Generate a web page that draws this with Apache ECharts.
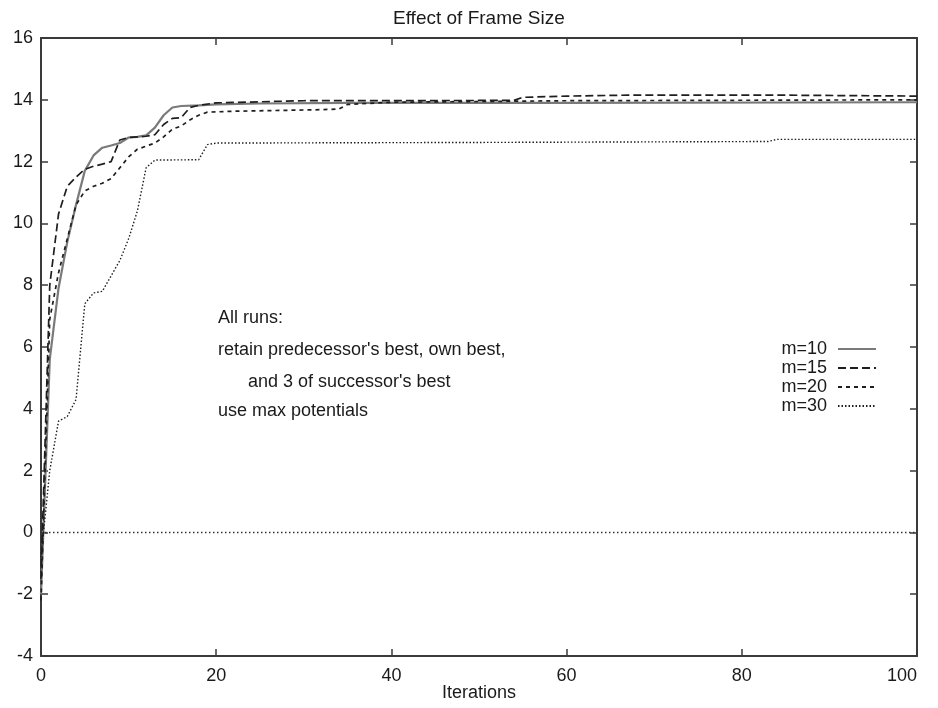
<!DOCTYPE html>
<html>
<head>
<meta charset="utf-8">
<title>Effect of Frame Size</title>
<script src="https://cdn.jsdelivr.net/npm/echarts@6/dist/echarts.min.js"></script>
<style>
  html, body { margin: 0; padding: 0; background: #ffffff; }
  #chart { width: 938px; height: 708px; }
</style>
</head>
<body>
<div id="chart"></div>
<script>
// Best value found per iteration for each frame size m
var iterM10 = [0, 1, 2, 3, 4, 5, 6, 7, 8, 9, 10, 11, 12, 13, 14, 15, 16, 18, 20, 25, 35, 60, 100];
var valM10  = [-2.0, 5.6, 7.9, 9.4, 10.6, 11.7, 12.2, 12.45, 12.52, 12.6, 12.78, 12.8, 12.85, 13.1, 13.5, 13.75, 13.8, 13.82, 13.85, 13.88, 13.9, 13.9, 13.92];

var iterM15 = [0, 1, 2, 3, 4, 5, 6, 7, 8, 9, 10, 11, 12, 13, 14, 15, 16, 17, 18, 20, 30, 54, 55, 60, 67, 85, 100];
var valM15  = [-1.5, 8.0, 10.3, 11.2, 11.5, 11.75, 11.85, 11.92, 12.0, 12.7, 12.78, 12.8, 12.82, 12.87, 13.2, 13.4, 13.42, 13.75, 13.82, 13.9, 13.97, 13.98, 14.08, 14.12, 14.15, 14.15, 14.12];

var iterM20 = [0, 1, 2, 3, 4, 5, 6, 7, 8, 9, 10, 11, 12, 13, 14, 15, 16, 17, 18, 19, 22, 32, 34, 35, 40, 60, 100];
var valM20  = [-2.2, 6.9, 8.4, 9.5, 10.6, 11.05, 11.2, 11.3, 11.45, 11.8, 12.15, 12.4, 12.5, 12.6, 12.8, 13.05, 13.15, 13.35, 13.5, 13.6, 13.63, 13.68, 13.7, 13.85, 13.92, 13.97, 14.0];

var iterM30 = [0, 1, 2, 3, 4, 5, 6, 7, 8, 9, 10, 11, 12, 13, 18, 19, 20, 50, 83, 84, 100];
var valM30  = [-0.8, 2.0, 3.6, 3.75, 4.3, 7.4, 7.75, 7.8, 8.3, 8.8, 9.5, 10.4, 11.8, 12.05, 12.06, 12.55, 12.6, 12.62, 12.65, 12.72, 12.72];

var seriesNames = ['m=10', 'm=15', 'm=20', 'm=30'];

var xTicks = [0, 20, 40, 60, 80, 100];
var yTicks = [-4, -2, 0, 2, 4, 6, 8, 10, 12, 14, 16];

var noteLines = [
  'All runs:',
  "retain predecessor's best, own best,",
  "      and 3 of successor's best",
  'use max potentials'
];

function pairs(xs, ys) {
  return xs.map(function (x, i) { return [x, ys[i]]; });
}

var FONT = '"Liberation Sans", Arial, Helvetica, sans-serif';
var INK = '#1a1a1a';
var FRAME = '#3a3a3a';

var baseX = {
  type: 'value', min: xTicks[0], max: xTicks[xTicks.length - 1], interval: 20,
  axisLine: { show: true, onZero: false, lineStyle: { color: FRAME, width: 2 } },
  axisTick: { show: true, inside: true, length: 7, lineStyle: { color: FRAME, width: 1.5 } },
  splitLine: { show: false }
};
var baseY = {
  type: 'value', min: yTicks[0], max: yTicks[yTicks.length - 1], interval: 2,
  axisLine: { show: true, onZero: false, lineStyle: { color: FRAME, width: 2 } },
  axisTick: { show: true, inside: true, length: 7, lineStyle: { color: FRAME, width: 1.5 } },
  splitLine: { show: false }
};

function line(name, xs, ys, style) {
  return {
    name: name, type: 'line', data: pairs(xs, ys),
    symbol: 'none', smooth: false, animation: false,
    lineStyle: style, itemStyle: { color: style.color }
  };
}

var chart = echarts.init(document.getElementById('chart'), null, { renderer: 'canvas' });

var labels = noteLines.map(function (t, i) {
  return {
    type: 'text', left: 218, top: [309, 341, 373, 402][i],
    style: { text: t, fill: INK, font: '18px ' + FONT }
  };
});

chart.setOption({
  backgroundColor: '#ffffff',
  animation: false,
  title: {
    text: 'Effect of Frame Size', left: 388, top: 4,
    textStyle: { fontFamily: FONT, fontSize: 19, fontWeight: 'normal', color: INK }
  },
  grid: { left: 41, right: 21, top: 38, bottom: 52, containLabel: false, outerBoundsMode: 'none' },
  xAxis: [
    Object.assign({}, baseX, {
      position: 'bottom',
      name: 'Iterations', nameLocation: 'middle', nameGap: 28, nameMoveOverlap: false,
      nameTextStyle: { fontFamily: FONT, fontSize: 18, color: INK },
      axisLabel: { show: true, margin: 11, fontFamily: FONT, fontSize: 18, color: INK, alignMaxLabel: 'right' }
    }),
    Object.assign({}, baseX, { position: 'top', axisLabel: { show: false } })
  ],
  yAxis: [
    Object.assign({}, baseY, {
      position: 'left',
      axisLabel: { show: true, margin: 8, fontFamily: FONT, fontSize: 18, color: INK }
    }),
    Object.assign({}, baseY, { position: 'right', axisLabel: { show: false } })
  ],
  legend: {
    orient: 'vertical', right: 56, top: 335, align: 'right',
    itemWidth: 38, itemHeight: 14, itemGap: 1,
    itemStyle: { opacity: 0 },
    data: seriesNames,
    textStyle: { fontFamily: FONT, fontSize: 18, color: INK, padding: [0, 6, 0, 0] }
  },
  graphic: labels,
  series: [
    Object.assign(line(seriesNames[0], iterM10, valM10, { color: '#7a7a7a', width: 2.2, type: 'solid' }), {
      markLine: {
        silent: true, symbol: 'none', label: { show: false },
        lineStyle: { color: '#333333', width: 1.3, type: [1.5, 2.5] },
        data: [{ yAxis: 0 }]
      }
    }),
    line(seriesNames[1], iterM15, valM15, { color: '#1e1e1e', width: 1.7, type: [8, 4] }),
    line(seriesNames[2], iterM20, valM20, { color: '#1e1e1e', width: 1.7, type: [4, 4] }),
    line(seriesNames[3], iterM30, valM30, { color: '#1e1e1e', width: 1.4, type: [1.5, 2] })
  ]
});
</script>
</body>
</html>
